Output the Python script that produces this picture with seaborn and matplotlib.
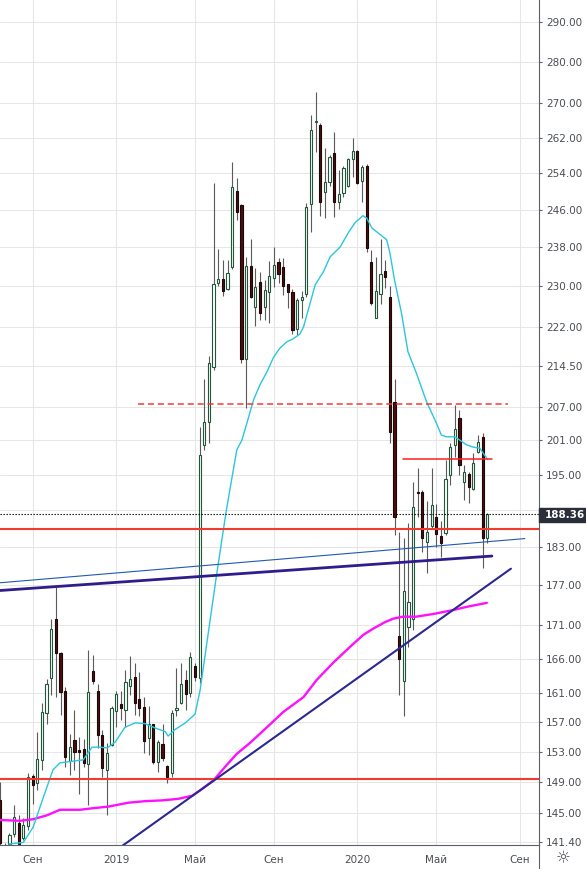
import numpy as np
import pandas as pd
import seaborn as sns
import matplotlib.pyplot as plt
import matplotlib.ticker as mticker
from matplotlib.patches import Rectangle
from matplotlib.lines import Line2D

# weekly candles, first bar = week of 2018-07-16
opens = [146.6, 140.6, 141.1, 142.4, 143.7, 141.8, 143.3, 149.8, 148.8, 151.9,
         158.3, 163.2, 171.8, 166.8, 161.3, 151.8, 154.5, 153.2, 153.3, 151.3,
         164.2, 161.4, 155.2, 150.6, 153.9, 158.5, 159.5, 158.7, 162.1, 163.3,
         160.2, 159.1, 154.8, 156.7, 151.6, 154.0, 151.1, 150.1, 158.7, 159.7,
         162.9, 161.0, 164.9, 163.2, 200.2, 204.3, 214.3, 230.6, 231.4, 229.4,
         233.9, 250.1, 247.0, 215.8, 234.2, 225.9, 230.8, 225.9, 228.8, 231.7,
         234.9, 233.9, 230.4, 228.8, 221.6, 227.3, 228.4, 247.2, 265.6, 265.0,
         249.9, 252.0, 258.5, 247.7, 249.6, 251.2, 257.1, 259.0, 252.3, 255.6,
         234.9, 223.7, 228.4, 233.2, 227.8, 207.8, 169.3, 162.8, 170.7, 171.8,
         192.1, 192.1, 183.9, 186.4, 187.9, 184.8, 185.3, 194.9, 200.2, 204.9,
         193.7, 195.2, 192.6, 199.0, 201.5, 184.5]
highs = [149.0, 141.2, 142.5, 146.0, 144.7, 144.3, 150.1, 150.0, 155.7, 159.7,
         163.1, 171.8, 176.7, 167.0, 161.9, 155.4, 158.7, 155.0, 154.7, 167.2,
         166.5, 162.3, 155.9, 154.1, 159.3, 161.4, 161.3, 164.3, 166.4, 165.3,
         164.1, 160.5, 159.3, 156.8, 154.6, 156.7, 151.2, 158.7, 164.7, 165.3,
         164.3, 166.9, 165.3, 203.3, 212.1, 216.4, 251.8, 237.6, 235.4, 235.4,
         256.4, 252.9, 247.2, 236.1, 239.7, 233.7, 233.0, 231.2, 235.2, 238.0,
         235.8, 235.8, 230.5, 229.4, 227.6, 229.0, 247.4, 267.3, 272.7, 265.5,
         259.6, 258.1, 263.3, 254.7, 255.6, 257.4, 261.9, 259.2, 255.8, 256.1,
         237.5, 236.1, 239.7, 235.4, 230.0, 212.0, 185.5, 184.5, 186.9, 193.8,
         196.1, 192.5, 190.5, 196.1, 190.0, 187.2, 197.5, 200.5, 207.3, 206.4,
         196.7, 195.4, 198.7, 201.9, 202.3, 188.5]
lows = [140.5, 138.5, 140.6, 142.0, 140.9, 141.6, 142.8, 146.2, 147.9, 150.6,
        156.8, 160.8, 160.5, 158.0, 151.0, 149.9, 150.6, 147.4, 151.0, 146.0,
        162.3, 153.5, 149.6, 144.7, 153.7, 156.4, 157.3, 156.4, 160.8, 158.0,
        157.8, 152.8, 152.6, 151.4, 150.3, 151.8, 148.8, 149.7, 157.8, 159.5,
        158.7, 160.5, 162.7, 162.5, 199.3, 200.5, 213.8, 230.1, 228.1, 229.2,
        233.5, 243.8, 215.1, 206.7, 227.6, 222.1, 223.3, 223.3, 222.8, 229.8,
        230.6, 228.3, 225.6, 220.6, 220.4, 223.7, 227.9, 241.3, 258.8, 244.7,
        244.2, 251.2, 244.5, 246.2, 248.8, 251.0, 253.2, 251.6, 247.7, 237.1,
        226.3, 223.7, 226.4, 229.6, 200.5, 185.0, 160.8, 157.9, 167.7, 170.2,
        187.9, 182.3, 178.9, 186.0, 183.1, 181.5, 185.0, 193.3, 198.1, 195.0,
        190.8, 190.2, 192.4, 198.7, 179.7, 183.7]
closes = [141.2, 139.8, 142.2, 144.5, 141.1, 143.5, 149.7, 148.6, 152.0, 158.4,
          162.4, 170.3, 166.8, 161.2, 152.3, 153.6, 153.0, 152.9, 151.5, 161.2,
          162.8, 155.2, 150.8, 152.8, 158.9, 160.9, 159.0, 162.6, 163.1, 159.6,
          158.9, 154.4, 156.7, 151.6, 154.3, 152.1, 149.6, 158.3, 158.9, 162.4,
          160.9, 166.2, 163.4, 198.4, 204.3, 215.0, 230.4, 231.4, 229.0, 232.7,
          250.9, 245.5, 215.8, 234.2, 227.8, 229.8, 224.7, 229.3, 232.1, 234.4,
          232.5, 230.1, 228.8, 221.4, 227.2, 227.8, 246.5, 263.8, 265.8, 247.7,
          252.0, 257.6, 247.7, 249.4, 255.2, 257.1, 259.0, 251.8, 255.3, 237.8,
          226.6, 229.1, 232.5, 231.9, 202.5, 188.0, 165.9, 176.1, 174.4, 189.5,
          191.9, 184.5, 185.5, 189.9, 185.2, 183.7, 194.2, 199.8, 202.9, 196.6,
          195.5, 192.9, 197.0, 200.7, 184.5, 188.36]

start = pd.Timestamp('2018-07-16')
dates = pd.date_range(start, periods=len(opens), freq='7D')

# moving averages (position in weeks from first bar)
fast_ma_week = [1.9, 5.0, 7.1, 9.3, 11.4, 12.9, 16.6, 17.9, 19.8, 21.5, 23.1, 24.8,
                26.9, 29.1, 31.2, 33.4, 35.6, 36.2, 37.7, 39.9, 42.0, 43.1, 46.5,
                48.7, 51.0, 52.1, 53.2, 54.6, 56.0, 57.5, 58.9, 60.3, 61.8, 63.2,
                64.6, 65.4, 66.4, 67.9, 69.7, 71.1, 73.3, 75.0, 76.5, 78.2, 79.0,
                80.1, 81.5, 83.3, 84.0, 85.0, 86.5, 87.9, 89.7, 91.9, 94.0, 95.1,
                96.2, 98.0, 99.1, 100.5, 101.9, 103.4, 104.4, 105.1]
fast_ma_val = [141.1, 141.3, 143.2, 147.0, 150.6, 151.5, 151.8, 151.9, 153.6, 153.6,
               153.5, 154.3, 156.3, 156.9, 156.8, 156.2, 155.7, 155.1, 156.0, 156.9,
               158.1, 161.5, 177.9, 188.8, 199.3, 201.0, 204.1, 208.2, 211.0, 213.4,
               216.1, 217.9, 219.1, 219.7, 220.6, 222.0, 225.3, 230.3, 233.0, 236.0,
               238.1, 241.0, 243.2, 244.7, 244.2, 242.1, 241.0, 239.6, 236.9, 231.3,
               224.7, 217.2, 213.2, 207.9, 204.1, 201.9, 201.6, 201.6, 201.0, 200.2,
               199.8, 199.6, 198.4, 197.6]
slow_ma_week = [0.0, 4.3, 7.1, 10.1, 12.9, 17.2, 20.0, 23.3, 27.6, 31.2, 34.9, 38.4,
                41.4, 43.1, 46.0, 48.8, 51.0, 53.9, 57.5, 61.0, 65.4, 68.2, 71.8,
                75.4, 78.3, 80.4, 83.0, 84.7, 86.8, 89.6, 93.3, 97.6, 100.6, 104.9]
slow_ma_val = [144.1, 144.0, 144.2, 144.7, 145.4, 145.4, 145.6, 145.8, 146.3, 146.5,
               146.6, 146.8, 147.2, 147.9, 149.2, 151.2, 152.7, 154.2, 156.3, 158.4,
               160.5, 162.9, 165.4, 167.7, 169.5, 170.4, 171.4, 171.9, 172.2, 172.2,
               172.6, 173.2, 173.7, 174.3]

# drawn lines: (week positions, prices)
trend_up_week, trend_up_price = [25.4, 110.1], [140.5, 179.6]
chan_thin_week, chan_thin_price = [0.0, 113.1], [177.4, 184.4]
chan_thick_week, chan_thick_price = [0.0, 106.0], [176.2, 181.6]
res_dash_week, res_dash_price = [29.7, 109.5], [207.5, 207.5]
res_short_week, res_short_price = [86.8, 106.0], [197.8, 197.8]
red_levels = [185.9, 149.4]
last_price = 188.36

price_ticks = [141.4, 145, 149, 153, 157, 161, 166, 171, 177, 183, 189, 195, 201,
               207, 214.5, 222, 230, 238, 246, 254, 262, 270, 280, 290]
hidden_tick = 189  # sits under the last-price label
month_ticks = ['2018-09-03', '2019-01-07', '2019-05-06', '2019-09-02',
               '2020-01-06', '2020-05-04', '2020-09-07']
month_labels = ['Сен', '2019', 'Май', 'Сен', '2020', 'Май', 'Сен']


def wk(w):
    return start + pd.to_timedelta(np.asarray(w, dtype=float) * 7, unit='D')


sns.set_style('white')
plt.rcParams['font.family'] = ['DejaVu Sans']

W, H = 586, 869
fig = plt.figure(figsize=(W / 100, H / 100), dpi=100)
ax = fig.add_axes([0, 24 / H, 539 / W, 845 / H])

ax.set_yscale('log')
ax.set_ylim(140.98, 295.6)
ax.set_xlim(start - pd.Timedelta(days=0.3), start + pd.Timedelta(days=116.15 * 7))

o = np.array(opens)
c = np.array(closes)
up = c >= o
ax.vlines(dates, lows, highs, color='#5a5a5a', lw=0.8, zorder=2)
ax.bar(dates[up], (c - o)[up], bottom=o[up], width=3.3, color='white',
       edgecolor='#22553a', linewidth=0.8, zorder=3)
ax.bar(dates[~up], (o - c)[~up], bottom=c[~up], width=3.3, color='#4e0d0d',
       edgecolor='#1a0808', linewidth=0.8, zorder=3)

fast = pd.DataFrame({'date': wk(fast_ma_week), 'ma': fast_ma_val})
slow = pd.DataFrame({'date': wk(slow_ma_week), 'ma': slow_ma_val})
sns.lineplot(data=slow, x='date', y='ma', ax=ax, color='#ff10ff', lw=1.7, zorder=5)
sns.lineplot(data=fast, x='date', y='ma', ax=ax, color='#2cc6dc', lw=1.0, zorder=5)

for lvl in red_levels:
    ax.axhline(lvl, color='#f23b2f', lw=1.5, zorder=6)
ax.axhline(last_price, color='black', lw=0.8, ls=(0, (1.2, 1.5)), zorder=6)
ax.plot(wk(chan_thin_week), chan_thin_price, color='#2158b0', lw=0.8, zorder=6)
ax.plot(wk(chan_thick_week), chan_thick_price, color='#2f1d8c', lw=2.0, zorder=6)
ax.plot(wk(trend_up_week), trend_up_price, color='#2c2890', lw=1.5, zorder=6)
ax.plot(wk(res_dash_week), res_dash_price, color='#f33a3a', lw=1.1,
        ls=(0, (4, 2.5)), zorder=6)
ax.plot(wk(res_short_week), res_short_price, color='#ff1f1f', lw=1.1, zorder=6)

ax.set_xlabel('')
ax.set_ylabel('')
ax.yaxis.tick_right()
ax.yaxis.set_major_locator(mticker.FixedLocator(price_ticks))
ax.yaxis.set_major_formatter(mticker.FuncFormatter(
    lambda v, p: '' if abs(v - hidden_tick) < 0.01 else f'{v:.2f}'))
ax.yaxis.set_minor_locator(mticker.NullLocator())
ax.set_xticks(pd.to_datetime(month_ticks))
ax.set_xticklabels(month_labels)
ax.grid(True, color='#e6e6e6', lw=0.75)
ax.set_axisbelow(True)

axis_col = '#5d606b'
for s in ['left', 'top']:
    ax.spines[s].set_visible(False)
for s in ['right', 'bottom']:
    ax.spines[s].set_color(axis_col)
    ax.spines[s].set_linewidth(0.8)
ax.tick_params(axis='y', direction='out', length=2.5, width=0.8, color=axis_col,
               labelsize=7.5, labelcolor='#4a4d56', pad=2.5)
ax.tick_params(axis='x', direction='out', length=2.5, width=0.8, color=axis_col,
               labelsize=7.5, labelcolor='#4a4d56', pad=5)

# right axis line continues through the time scale strip
fig.lines.append(Line2D([539 / W, 539 / W], [0, 24 / H], transform=fig.transFigure,
                        color=axis_col, lw=0.8))
# last price label
fig.patches.append(Rectangle((539 / W, 1 - 522 / H), 47 / W, 14 / H,
                             transform=fig.transFigure, color='#2a2e39', zorder=5))
fig.text(545 / W, 1 - 515 / H, f'{last_price:.2f}', color='white', fontsize=7.5,
         fontweight='bold', ha='left', va='center', zorder=6)
fig.text(563 / W, 1 - 858 / H, '☼', color='#4a4d56', fontsize=12,
         ha='center', va='center')

fig.savefig('out.png', dpi=100)
